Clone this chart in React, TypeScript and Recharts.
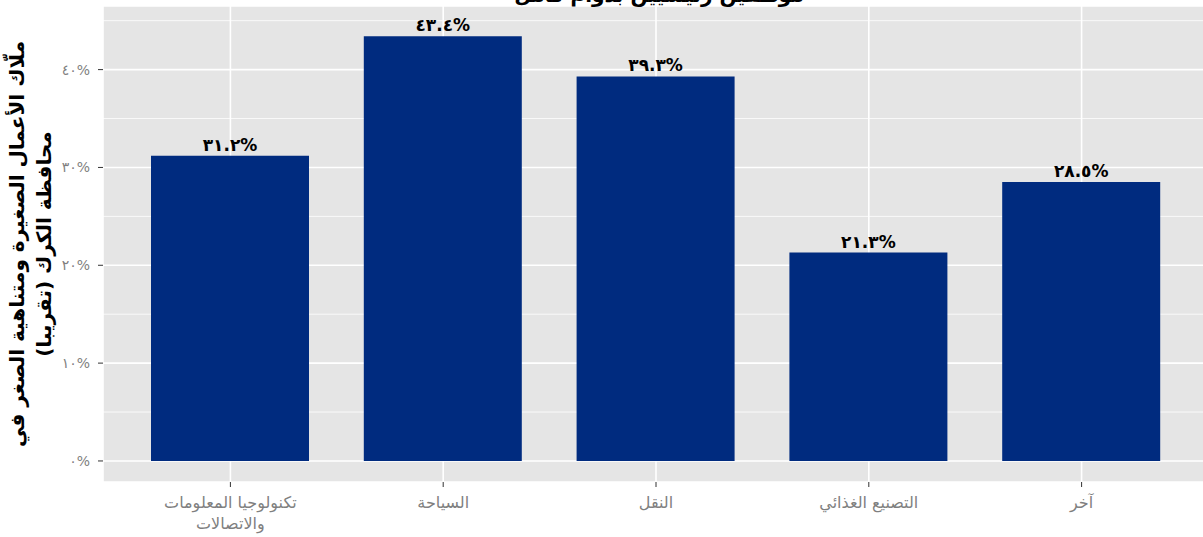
import React from 'react';
import { BarChart, Bar, XAxis, YAxis, CartesianGrid, LabelList, Customized } from 'recharts';

const categories = ['تكنولوجيا المعلومات والاتصالات', 'السياحة', 'النقل', 'التصنيع الغذائي', 'آخر'];
const values = [31.2, 43.4, 39.3, 21.3, 28.5];
const yTicks = [0, 10, 20, 30, 40];
const minorTicks = [5, 15, 25, 35, 45];
const title = 'موظفين رئيسيين بدوام كامل';
const yLabelLine1 = 'ملّاك الأعمال الصغيرة ومتناهية الصغر في';
const yLabelLine2 = 'محافظة الكرك (تقريبا)';

const data = categories.map((c, i) => ({ name: c, value: values[i] }));

const FONT = '"DejaVu Sans", sans-serif';
const arabicDigits = (s: string) => s.replace(/[0-9]/g, (d) => '٠١٢٣٤٥٦٧٨٩'[Number(d)]);

const XTick = (props: any) => {
  const { x, y, payload } = props;
  const label: string = payload.value;
  const lines = label === categories[0] ? ['تكنولوجيا المعلومات', 'والاتصالات'] : [label];
  return (
    <g>
      <text x={x} y={y} textAnchor="middle" fill="#7F7F7F" fontSize={16} fontFamily={FONT}>
        {lines.map((l, i) => (
          <tspan key={i} x={x} dy={i === 0 ? 19 : 21}>{l}</tspan>
        ))}
      </text>
    </g>
  );
};

const YLabel = (props: any) => {
  const vb = props.viewBox || {};
  const cy = vb.y + vb.height / 2;
  return (
    <g>
      <text transform={`translate(24, ${cy}) rotate(-90)`} textAnchor="middle" fill="#000" fontSize={20} fontWeight="bold" fontFamily={FONT}>
        {yLabelLine1}
      </text>
      <text transform={`translate(51, ${cy}) rotate(-90)`} textAnchor="middle" fill="#000" fontSize={20} fontWeight="bold" fontFamily={FONT}>
        {yLabelLine2}
      </text>
    </g>
  );
};

const Title = () => (
  <text x={659} y={2} textAnchor="middle" fill="#000" fontSize={20} fontWeight="bold" fontFamily={FONT}>
    {title}
  </text>
);

export default function App() {
  return (
    <div style={{ position: 'fixed', left: 0, top: 0, width: 1203, height: 537, overflow: 'hidden', background: '#fff' }}>
      <BarChart
        width={1215}
        height={537}
        data={data}
        margin={{ top: 6, right: 6, bottom: 0, left: 0 }}
        barSize={158}
      >
        <CartesianGrid stroke="#FFFFFF" strokeWidth={0.8} horizontalValues={minorTicks} vertical={false} fill="#E5E5E5" />
        <CartesianGrid stroke="#FFFFFF" strokeWidth={1.6} />
        <XAxis
          dataKey="name"
          type="category"
          height={55}
          padding={{ left: 21, right: 21 }}
          axisLine={false}
          tickLine={{ stroke: '#333333', strokeWidth: 1 }}
          tickSize={5}
          tick={<XTick />}
          interval={0}
        />
        <YAxis
          type="number"
          width={103}
          domain={[-2.15, 46.5]}
          ticks={yTicks}
          allowDataOverflow
          axisLine={false}
          tickLine={{ stroke: '#333333', strokeWidth: 1 }}
          tickSize={5}
          tickMargin={8}
          tick={{ fill: '#7F7F7F', fontSize: 14, fontFamily: FONT }}
          tickFormatter={(v: number) => arabicDigits(String(v)) + '%'}
          label={{ content: <YLabel /> }}
        />
        <Bar dataKey="value" fill="#002B7F" isAnimationActive={false}>
          <LabelList
            dataKey="value"
            position="top"
            offset={5}
            fill="#000"
            fontSize={17}
            fontWeight="bold"
            fontFamily={FONT}
            formatter={(v: any) => arabicDigits(Number(v).toFixed(1)) + '%'}
          />
        </Bar>
        <Customized component={Title} />
      </BarChart>
    </div>
  );
}
